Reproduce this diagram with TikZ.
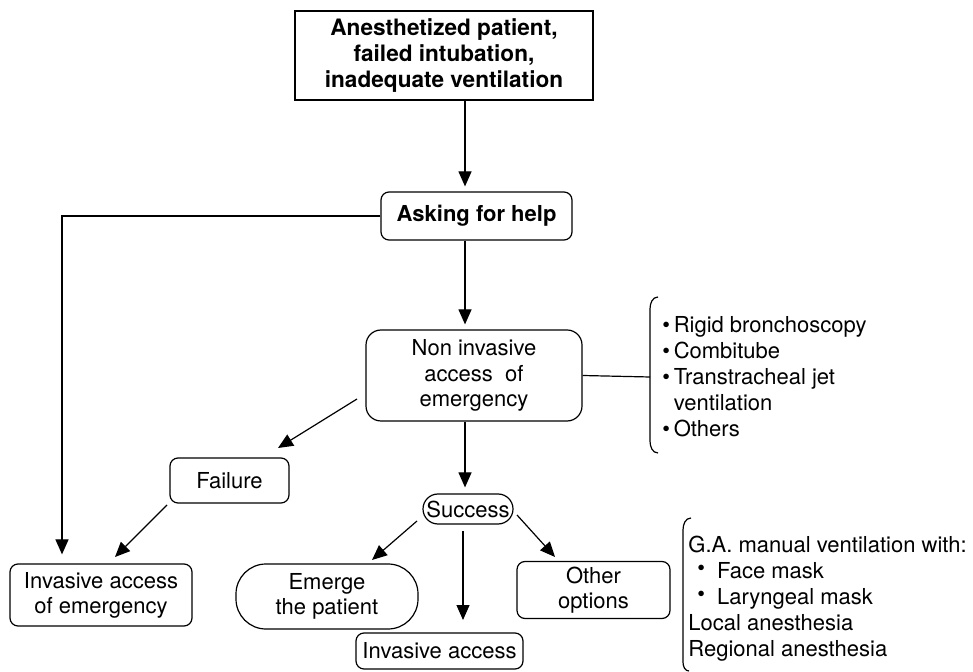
\documentclass[tikz,border=0pt]{standalone}
\usepackage{fontspec}
\setmainfont{TeX Gyre Heros}
\usetikzlibrary{arrows.meta}
\usetikzlibrary{positioning}
\newcommand{\flowfont}{\fontsize{11}{12.6}\selectfont}
\newcommand{\listfont}{\fontsize{11}{13}\selectfont}
\tikzset{box/.style = {draw, line width=0.6pt, align=center, inner sep=0,
                       rounded corners=4pt, font=\flowfont}}
\tikzset{arr/.style = {-{Triangle[length=7.5pt, width=6.5pt]}, line width=0.6pt}}
\tikzset{wire/.style = {line width=0.6pt}}

\begin{document}
\begin{tikzpicture}[x=0.5pt, y=-0.5pt]
      \useasboundingbox (0,0) rectangle (973,672);
      % boxes
      \node [box, sharp corners, minimum width=149pt, minimum height=44.5pt,
             font=\fontsize{11.3}{12.8}\selectfont\bfseries] (start) at (444,55.5)
            {Anesthetized patient,\\failed intubation,\\inadequate ventilation};
      \node [box, minimum width=95.5pt, minimum height=24pt,
             font=\flowfont\bfseries] (help) at (476.5,216) {Asking for help};
      \node [box, rounded corners=7.5pt, minimum width=108pt, minimum height=45.5pt]
            (noninv) at (474,375.5) {Non invasive\\access \ of\\emergency};
      \node [box, rounded corners=7.5pt, minimum width=45pt, minimum height=15pt]
            (success) at (468,509) {Success};
      \node [box, minimum width=59.5pt, minimum height=22.5pt] (failure) at (229.5,480.5) {Failure};
      \node [box, minimum width=91pt, minimum height=31pt] (invemerg) at (101,595)
            {Invasive access\\of emergency};
      \node [box, rounded corners=15pt, minimum width=91pt, minimum height=32.5pt]
            (emerge) at (327,596.5) {Emerge\\the patient};
      \node [box, minimum width=83.5pt, minimum height=18pt] (invasive) at (439.5,651)
            {Invasive access};
      \node [box, minimum width=76.5pt, minimum height=28.5pt] (other) at (593.5,590)
            {Other\\options};
      % lists
      \node [anchor=west, align=left, inner sep=0, font=\listfont] (nilist) at (662,377)
            {•\,Rigid bronchoscopy\\•\,Combitube\\•\,Transtracheal jet\\\phantom{•\,}ventilation\\•\,Others};
      \node [anchor=west, align=left, inner sep=0, font=\listfont] (galist) at (688,599)
            {G.A. manual ventilation with:\\
             \hspace{4.5pt}\raisebox{1.5pt}{•}\hspace{6pt}Face mask\\
             \hspace{4.5pt}\raisebox{1.5pt}{•}\hspace{6pt}Laryngeal mask\\
             Local anesthesia\\Regional anesthesia};
      % braces
      \coordinate (braceA) at (650,377);
      \draw [wire] (658,297) to [out=180, in=90] (650,309) -- (650,441)
                   to [out=-90, in=180] (658,453);
      \draw [wire] (691,518) to [out=180, in=90] (683,530) -- (683,662)
                   to [out=-90, in=180] (689,671);
      % free ends
      \coordinate (spine) at (465,0);
      \coordinate (rail) at (62,0);
      \coordinate (fa) at (357,399);
      \coordinate (fb) at (278,448);
      \coordinate (ea) at (417,521);
      \coordinate (eb) at (372,560);
      \coordinate (ia) at (463,531);
      \coordinate (ib) at (463,620);
      \coordinate (oa) at (517,515);
      \coordinate (ob) at (555,557);
      \coordinate (va) at (167,505);
      \coordinate (vb) at (115,557);
      % connectors
      \draw [arr, shorten >=2.5pt] (start.south -| spine) -- (help.north -| spine);
      \draw [arr, shorten >=2.5pt] (help.south -| spine) -- (noninv.north -| spine);
      \draw [arr, shorten >=3pt] (noninv.south -| spine) -- (success.north -| spine);
      \draw [arr, shorten >=4.5pt] (help.west) -| (invemerg.north -| rail);
      \draw [wire] (noninv.east) -- (braceA);
      \draw [arr] (fa) -- (fb);
      \draw [arr] (va) -- (vb);
      \draw [arr] (ea) -- (eb);
      \draw [arr] (ia) -- (ib);
      \draw [arr] (oa) -- (ob);
    \end{tikzpicture}
\end{document}
